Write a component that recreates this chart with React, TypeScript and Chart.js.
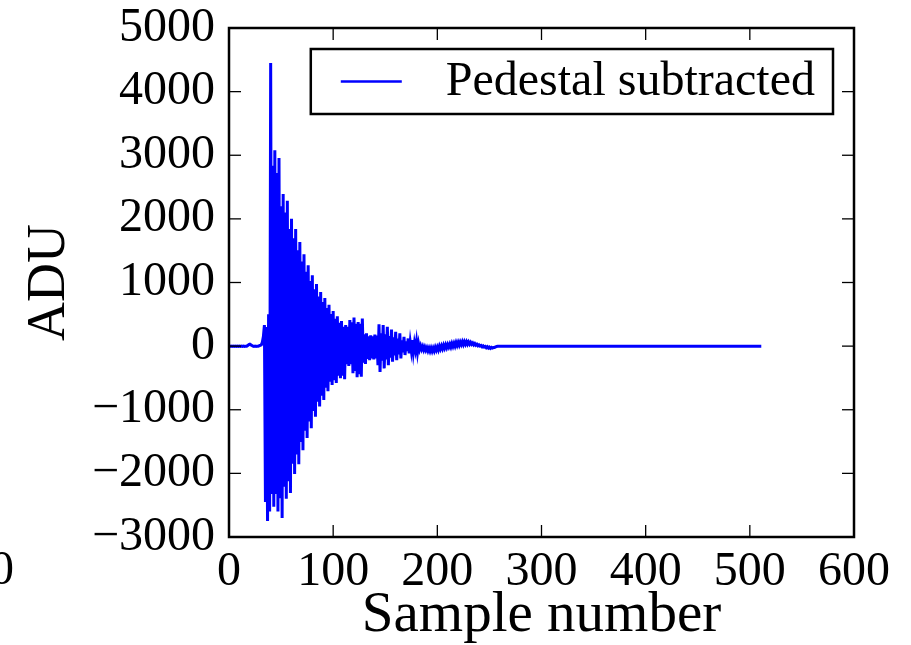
import React, { useEffect, useRef } from 'react';
import { Chart, registerables } from 'chart.js';
Chart.register(...registerables);

// ADU value for each sample number 0..258
const adu = [
  0, -5, 0, -5, 0, -5, 0, -5, 0, -5,
  0, -5, 0, -5, 0, -5, 0, 0, 10, 25,
  30, 20, 10, 0, -5, 0, -5, 0, 0, 5,
  10, 20, 60, 150, 330, -2450, 300, -2750, 500, -2600,
  4450, -2325, 2835, -2525, 3080, -2325, 2720, -2600, 2955, -2390,
  2200, -2700, 2390, -2210, 2100, -2400, 2285, -2125, 1840, -2310,
  2000, -1850, 1695, -2010, 1840, -1705, 1505, -1855, 1635, -1505,
  1330, -1635, 1445, -1330, 1170, -1445, 1270, -1185, 1025, -1290,
  1115, -1020, 895, -1110, 975, -875, 780, -950, 850, -780,
  695, -845, 755, -655, 600, -710, 650, -560, 505, -610,
  550, -535, 430, -580, 470, -465, 365, -505, 395, -465,
  305, -520, 330, -285, 305, -310, 410, -285, 375, -425,
  450, -390, 350, -490, 380, -440, 350, -480, 435, -260,
  185, -280, 200, -200, 155, -220, 170, -195, 155, -210,
  180, -195, 165, -300, 345, -405, 200, -230, 330, -350,
  185, -210, 305, -300, 160, -180, 260, -245, 140, -145,
  225, -220, 120, -130, 200, -195, 90, -100, 145, -140,
  75, -80, 120, -115, 60, -65, 95, -90, 45, -55,
  70, -90, 35, -50, 5, -50, -5, -60, -15, -65,
  -25, -75, -30, -80, -30, -80, -30, -75, -20, -65,
  -15, -60, 0, -45, 5, -40, 15, -30, 20, -25,
  25, -15, 30, -15, 40, -5, 45, 0, 55, 10,
  60, 15, 65, 25, 70, 25, 70, 30, 70, 30,
  65, 30, 60, 30, 50, 20, 40, 15, 30, 5,
  20, 0, 10, -10, 5, -15, -5, -25, -10, -30,
  -15, -35, -20, -30, -20, -20, -10, -5, 0,
];
// flat remainder of the trace
const tailSamples = [259, 511];
const tailValues = [0, 0];

const xTicks = [0, 100, 200, 300, 400, 500, 600];
const yTicks = [-3000, -2000, -1000, 0, 1000, 2000, 3000, 4000, 5000];
const seriesLabel = 'Pedestal subtracted';
const xTitle = 'Sample number';
const yTitle = 'ADU';
const strayLabel = '0';

const SERIF = '"Liberation Serif", "DejaVu Serif", serif';
const fmt = (v: number) => (v < 0 ? '\u2212' + Math.abs(v) : String(v));

const decorPlugin = {
  id: 'decor',
  afterDatasetsDraw(chart: any) {
    const { ctx, chartArea: a, scales } = chart;
    ctx.save();
    ctx.strokeStyle = '#000';
    ctx.lineWidth = 1.3;
    const tl = 12;
    const seg = (x1: number, y1: number, x2: number, y2: number) => {
      ctx.beginPath();
      ctx.moveTo(x1, y1);
      ctx.lineTo(x2, y2);
      ctx.stroke();
    };
    xTicks.forEach((v) => {
      const p = scales.x.getPixelForValue(v);
      seg(p, a.top, p, a.top + tl);
      seg(p, a.bottom, p, a.bottom - tl);
    });
    yTicks.forEach((v) => {
      const p = scales.y.getPixelForValue(v);
      seg(a.left, p, a.left + tl, p);
      seg(a.right, p, a.right - tl, p);
    });
    ctx.lineWidth = 2.5;
    ctx.strokeRect(a.left, a.top, a.right - a.left, a.bottom - a.top);

    // legend
    ctx.font = `48px ${SERIF}`;
    const tw = ctx.measureText(seriesLabel).width;
    const padL = 30, lineW = 61, gap = 44, padR = 18;
    const bw = padL + lineW + gap + tw + padR;
    const bh = 65;
    const bx = a.right - 21 - bw;
    const by = a.top + 21;
    ctx.fillStyle = '#fff';
    ctx.fillRect(bx, by, bw, bh);
    ctx.lineWidth = 2.5;
    ctx.strokeStyle = '#000';
    ctx.strokeRect(bx, by, bw, bh);
    const cy = by + bh / 2;
    ctx.strokeStyle = '#0000ff';
    ctx.lineWidth = 2.6;
    seg(bx + padL, cy, bx + padL + lineW, cy);
    ctx.fillStyle = '#000';
    ctx.textBaseline = 'middle';
    ctx.textAlign = 'left';
    ctx.fillText(seriesLabel, bx + padL + lineW + gap, cy + 1);

    // stray clipped label at the far left
    ctx.textAlign = 'right';
    ctx.fillText(strayLabel, 14, a.bottom + 34);
    ctx.restore();
  },
};

export default function App() {
  const ref = useRef<HTMLCanvasElement>(null);
  useEffect(() => {
    const points = adu.map((v, i) => ({ x: i, y: v }));
    tailSamples.forEach((s, i) => points.push({ x: s, y: tailValues[i] }));
    const chart = new Chart(ref.current!, {
      type: 'line',
      data: {
        datasets: [
          {
            label: seriesLabel,
            data: points,
            borderColor: '#0000ff',
            borderWidth: 3,
            pointRadius: 0,
            fill: false,
            tension: 0,
          },
        ],
      },
      plugins: [decorPlugin],
      options: {
        animation: false,
        responsive: false,
        devicePixelRatio: 1,
        layout: { padding: { left: 0, right: 57, top: 28, bottom: 0 } },
        plugins: { legend: { display: false }, tooltip: { enabled: false } },
        scales: {
          x: {
            type: 'linear',
            min: 0,
            max: 600,
            afterFit: (s: any) => { s.height = 108; s.paddingLeft = 0; s.paddingRight = 0; },
            afterBuildTicks: (s: any) => { s.ticks = xTicks.map((v) => ({ value: v })); },
            grid: { display: false, drawTicks: false },
            border: { display: false },
            ticks: {
              autoSkip: false,
              maxRotation: 0,
              padding: 7,
              color: '#000',
              font: { family: SERIF, size: 48, lineHeight: 1.2 },
              callback: (v: any) => fmt(Number(v)),
            },
            title: {
              display: true,
              text: xTitle,
              color: '#000',
              font: { family: SERIF, size: 57, lineHeight: 1.0 },
              padding: { top: 0, bottom: 0 },
            },
          },
          y: {
            type: 'linear',
            min: -3000,
            max: 5000,
            afterFit: (s: any) => { s.width = 229; s.paddingTop = 0; s.paddingBottom = 0; },
            afterBuildTicks: (s: any) => { s.ticks = yTicks.map((v) => ({ value: v })); },
            grid: { display: false, drawTicks: false },
            border: { display: false },
            ticks: {
              autoSkip: false,
              padding: 14,
              color: '#000',
              font: { family: SERIF, size: 48, lineHeight: 1.0 },
              callback: (v: any) => fmt(Number(v)),
            },
            title: {
              display: true,
              text: yTitle,
              color: '#000',
              font: { family: SERIF, size: 54, lineHeight: 1.2 },
              padding: { top: 17, bottom: 0 },
            },
          },
        },
      },
    });
    return () => chart.destroy();
  }, []);
  return (
    <div style={{ position: 'absolute', left: 0, top: 0, width: 911, height: 645, background: '#fff' }}>
      <canvas ref={ref} width={911} height={645} style={{ display: 'block' }} />
    </div>
  );
}
